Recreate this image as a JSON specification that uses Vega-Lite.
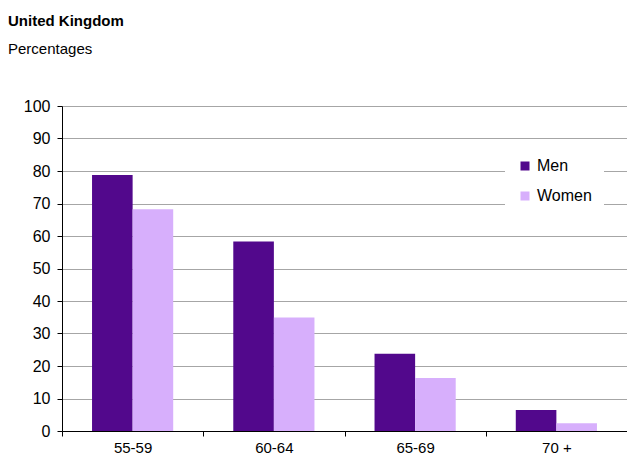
{
  "$schema": "https://vega.github.io/schema/vega-lite/v6.json",
  "autosize": "none",
  "width": 565,
  "height": 325,
  "padding": {"left": 62, "top": 106, "right": 0, "bottom": 26},
  "background": "white",
  "title": {
    "text": "United Kingdom",
    "subtitle": "Percentages",
    "anchor": "start",
    "frame": "group",
    "dx": -54,
    "offset": 41,
    "font": "Liberation Sans",
    "fontSize": 15,
    "fontWeight": "bold",
    "color": "#000000",
    "subtitleFont": "Liberation Sans",
    "subtitleFontSize": 15,
    "subtitleColor": "#000000",
    "subtitlePadding": 13
  },
  "data": {
    "values": [
      {"age": "55-59", "sex": "Men", "pct": 78.8},
      {"age": "55-59", "sex": "Women", "pct": 68.2},
      {"age": "60-64", "sex": "Men", "pct": 58.3},
      {"age": "60-64", "sex": "Women", "pct": 34.9},
      {"age": "65-69", "sex": "Men", "pct": 23.8},
      {"age": "65-69", "sex": "Women", "pct": 16.3},
      {"age": "70 +", "sex": "Men", "pct": 6.5},
      {"age": "70 +", "sex": "Women", "pct": 2.4}
    ]
  },
  "mark": {"type": "bar"},
  "encoding": {
    "x": {
      "field": "age",
      "type": "nominal",
      "sort": null,
      "title": null,
      "scale": {"paddingInner": 0, "paddingOuter": 0},
      "axis": {
        "labelAngle": 0,
        "labelFont": "Liberation Sans",
        "labelFontSize": 15,
        "labelColor": "#000000",
        "labelPadding": 4,
        "domainColor": "#000000",
        "domainWidth": 1,
        "tickColor": "#000000",
        "tickBand": "extent",
        "tickSize": 5,
        "grid": false
      }
    },
    "xOffset": {
      "field": "sex",
      "type": "nominal",
      "sort": ["Men", "Women"],
      "scale": {"paddingInner": 0, "paddingOuter": 0.74}
    },
    "y": {
      "field": "pct",
      "type": "quantitative",
      "title": null,
      "scale": {"domain": [0, 100], "nice": false},
      "axis": {
        "values": [0, 10, 20, 30, 40, 50, 60, 70, 80, 90, 100],
        "labelFont": "Liberation Sans",
        "labelFontSize": 16,
        "labelColor": "#000000",
        "labelPadding": 7,
        "domainColor": "#000000",
        "tickColor": "#000000",
        "tickSize": 5,
        "gridColor": "#a6a6a6",
        "gridWidth": 1
      }
    },
    "color": {
      "field": "sex",
      "type": "nominal",
      "scale": {"domain": ["Men", "Women"], "range": ["#52088c", "#d7affc"]},
      "legend": {
        "title": null,
        "orient": "none",
        "legendX": 443,
        "legendY": 40,
        "fillColor": "white",
        "padding": 12,
        "rowPadding": 14,
        "symbolType": "square",
        "symbolSize": 81,
        "symbolStrokeWidth": 0,
        "symbolOpacity": 1,
        "labelFont": "Liberation Sans",
        "labelFontSize": 16,
        "labelColor": "#000000",
        "labelOffset": 4
      }
    }
  }
}
